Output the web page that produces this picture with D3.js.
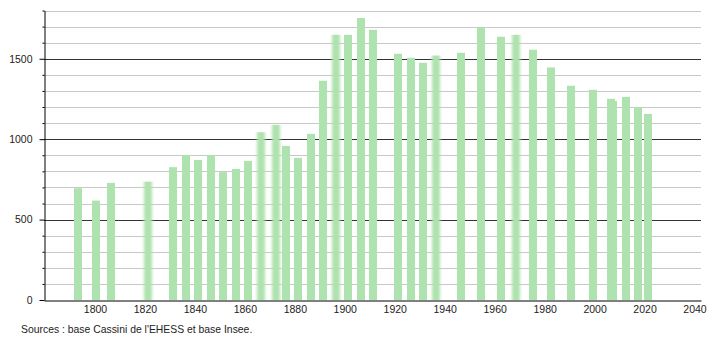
<!DOCTYPE html>
<html>
<head>
<meta charset="utf-8">
<script src="https://cdn.jsdelivr.net/npm/d3@7"></script>
<style>
  body { margin: 0; background: #fff; }
  svg { display: block; font-family: 'Liberation Sans', Arial, sans-serif; }
  .axis text { fill: #222; font-size: 10.5px; }
  .source { fill: #222; font-size: 10.4px; }
</style>
</head>
<body>
<svg id="chart"></svg>
<script>
let years = [1793, 1800, 1806, 1821, 1831, 1836, 1841, 1846, 1851, 1856,
  1861, 1866, 1872, 1876, 1881, 1886, 1891, 1896, 1901, 1906,
  1911, 1921, 1926, 1931, 1936, 1946, 1954, 1962, 1968, 1975,
  1982, 1990, 1999, 2006, 2007, 2012, 2017, 2021]
let population = [695, 618, 728, 736, 826, 902, 871, 902, 795, 815,
  865, 1043, 1089, 958, 884, 1033, 1363, 1649, 1649, 1753,
  1680, 1531, 1506, 1475, 1520, 1537, 1697, 1637, 1649, 1556,
  1446, 1332, 1307, 1251, 1238, 1263, 1199, 1157]
let xTicks = [1800, 1820, 1840, 1860, 1880, 1900, 1920, 1940, 1960, 1980, 2000, 2020, 2040]
let yTicks = [0, 500, 1000, 1500]
let sourceText = "Sources : base Cassini de l'EHESS et base Insee."

// bars that look smeared sideways in the original
let softYears = [1821, 1866, 1872, 1896, 1936, 1968]

let d3 = window.d3
let plot = { left: 44, right: 701, top: 10.5, bottom: 300 }

let svg = d3.select('#chart')
  .attr('width', 710)
  .attr('height', 340)

svg.append('defs')
  .append('filter')
  .attr('id', 'soft')
  .attr('x', '-50%')
  .attr('width', '200%')
  .append('feGaussianBlur')
  .attr('stdDeviation', '1.6 0')

let x = d3.scaleLinear()
  .domain([1779.6, 2042.6])
  .range([plot.left, plot.right])

let y = d3.scaleLinear()
  .domain([0, 1800])
  .range([plot.bottom, plot.top])

// grid lines, light every 100, dark every 500
let minor = d3.range(100, 1801, 100).filter(v => v % 500 !== 0)
svg.append('g')
  .selectAll('line')
  .data(minor)
  .join('line')
  .attr('x1', plot.left)
  .attr('x2', plot.right)
  .attr('y1', d => Math.round(y(d)) + 0.5)
  .attr('y2', d => Math.round(y(d)) + 0.5)
  .attr('stroke', '#c8c8c8')

svg.append('g')
  .selectAll('line')
  .data(yTicks.filter(v => v > 0))
  .join('line')
  .attr('x1', plot.left)
  .attr('x2', plot.right)
  .attr('y1', d => Math.round(y(d)) + 0.5)
  .attr('y2', d => Math.round(y(d)) + 0.5)
  .attr('stroke', '#333')

let barWidth = 8
svg.append('g')
  .selectAll('rect')
  .data(years)
  .join('rect')
  .attr('x', d => Math.round(x(d)) - 3)
  .attr('width', barWidth)
  .attr('y', (d, i) => y(population[i]))
  .attr('height', (d, i) => plot.bottom - y(population[i]))
  .attr('fill', '#aee2ae')
  .attr('filter', d => softYears.includes(d) ? 'url(#soft)' : null)

// minor y ticks
svg.append('g')
  .attr('transform', 'translate(' + (plot.left + 0.5) + ',0)')
  .call(d3.axisLeft(y).tickValues(minor).tickSize(2).tickFormat(''))
  .call(g => g.select('.domain').remove())
  .selectAll('line').attr('stroke', '#000')

let yAxis = svg.append('g')
  .attr('class', 'y axis')
  .attr('transform', 'translate(' + (plot.left + 0.5) + ',0)')
  .call(d3.axisLeft(y).tickValues(yTicks).tickSize(5).tickPadding(7).tickSizeOuter(0).tickFormat(d3.format('d')))
yAxis.select('.domain').attr('stroke', '#000')
yAxis.selectAll('line').attr('stroke', '#000')
yAxis.selectAll('text').attr('font-family', null).attr('font-size', null)

let xAxis = svg.append('g')
  .attr('class', 'x axis')
  .attr('transform', 'translate(0,' + (plot.bottom + 0.5) + ')')
  .call(d3.axisBottom(x).tickValues(xTicks).tickSize(0).tickPadding(5).tickFormat(d3.format('d')))
xAxis.select('.domain').attr('stroke', '#000')
xAxis.selectAll('text').attr('font-family', null).attr('font-size', null)

svg.append('text')
  .attr('class', 'source')
  .attr('x', 21)
  .attr('y', 333)
  .text(sourceText)
</script>
</body>
</html>
